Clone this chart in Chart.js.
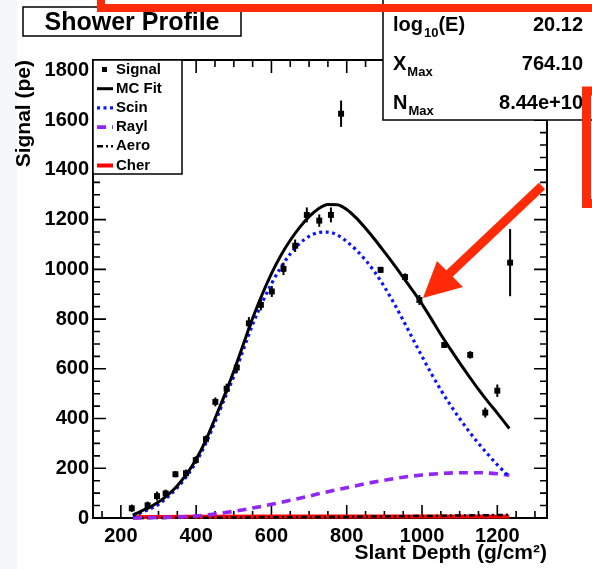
<!DOCTYPE html>
<html>
<head>
<meta charset="utf-8">
<script src="https://cdn.jsdelivr.net/npm/chart.js@4.4.1/dist/chart.umd.min.js"></script>
<style>
  html, body { margin: 0; padding: 0; background: #fff; }
  canvas { display: block; }
</style>
</head>
<body>
<canvas id="perfil" width="592" height="569"></canvas>
<script>
// puntos de senal (g/cm2 , pe) con su error
const sigX   = [229, 271, 296, 319, 345, 373, 399, 426, 451, 481, 508, 540, 572, 601, 632, 663, 694, 727, 758, 785, 890, 955, 993, 1059, 1128, 1168, 1200, 1234];
const sigY   = [39, 51, 88, 99, 176, 180, 233, 317, 467, 520, 605, 783, 857, 911, 1002, 1095, 1219, 1196, 1219, 1626, 998, 969, 877, 696, 656, 424, 512, 1027];
const sigErr = [15, 15, 18, 15, 12, 15, 15, 15, 18, 20, 22, 25, 22, 22, 25, 25, 30, 25, 30, 53, 12, 15, 20, 12, 15, 20, 25, 135];

// curvas del ajuste
const curvaX = [232, 250, 275, 300, 325, 350, 375, 400, 425, 450, 475, 500, 525, 550, 575, 600, 625, 650, 675, 700, 725, 750, 775, 800, 825, 850, 875, 900, 925, 950, 975, 1000, 1025, 1050, 1075, 1100, 1125, 1150, 1175, 1200, 1232];
const fitY  = [12, 25, 42, 64, 93, 130, 177, 236, 310, 400, 492, 590, 697, 803, 898, 983, 1056, 1117, 1169, 1212, 1244, 1261, 1260, 1241, 1207, 1165, 1119, 1070, 1020, 968, 915, 860, 800, 738, 680, 624, 570, 517, 468, 422, 360];
const scinY = [8, 20, 35, 55, 85, 122, 168, 225, 298, 385, 478, 570, 675, 778, 865, 942, 1008, 1062, 1104, 1133, 1148, 1150, 1138, 1112, 1078, 1037, 988, 930, 865, 795, 722, 650, 580, 515, 455, 400, 348, 300, 256, 214, 166];

const raylX = [232, 300, 350, 400, 450, 500, 550, 600, 650, 700, 750, 800, 850, 900, 950, 1000, 1050, 1100, 1150, 1200, 1232];
const raylY = [0, 2, 4, 8, 16, 27, 40, 55, 71, 88, 106, 122, 138, 152, 164, 173, 179, 182, 182, 178, 172];
const aeroX = [232, 400, 600, 800, 1000, 1100, 1200, 1232];
const aeroY = [0, 1, 3, 5, 8, 10, 12, 13];
const cherX = [232, 400, 600, 800, 1000, 1200, 1232];
const cherY = [3, 5, 6, 6, 6, 6, 6];

const ticksX = [200, 400, 600, 800, 1000, 1200];
const ticksY = [0, 200, 400, 600, 800, 1000, 1200, 1400, 1600, 1800];

const nombres = ["Signal", "MC Fit", "Scin", "Rayl", "Aero", "Cher"];
const statNombres = [["log", "10", "(E)"], ["X", "Max", ""], ["N", "Max", ""]];
const statValores = ["20.12", "764.10", "8.44e+10"];

const FUENTE = "'Liberation Sans', Arial, Helvetica, sans-serif";
const ROJO = "#ff2a08";

function pares(xs, ys) {
  return xs.map((x, i) => ({ x: x, y: ys[i] }));
}

function curva(label, xs, ys, color, ancho, dash) {
  return {
    label: label,
    data: pares(xs, ys),
    showLine: true,
    borderColor: color,
    borderWidth: ancho,
    borderDash: dash,
    pointRadius: 0,
    cubicInterpolationMode: "monotone",
    clip: 6,
    fill: false
  };
}

const datasets = [
  {
    label: nombres[0],
    data: pares(sigX, sigY),
    showLine: false,
    pointStyle: "rect",
    pointRadius: 4.2,
    backgroundColor: "#000",
    borderColor: "#000",
    borderWidth: 0
  },
  curva(nombres[1], curvaX, fitY, "#000", 3, []),
  curva(nombres[2], curvaX, scinY, "#0a14ff", 3.2, [3, 3.5]),
  curva(nombres[3], raylX, raylY, "#9226f2", 3.6, [9, 6]),
  curva(nombres[4], aeroX, aeroY, "#000", 2.5, [6, 3, 2, 3]),
  curva(nombres[5], cherX, cherY, "#ff0000", 4, [])
];

// barras de error, marco con ticks estilo ROOT, cajas y anotaciones
const decoracion = {
  id: "decoracion",
  beforeDraw(chart) {
    const ctx = chart.ctx;
    ctx.save();
    ctx.fillStyle = "#fff";
    ctx.fillRect(0, 0, chart.width, chart.height);
    ctx.fillStyle = "#f4f6fa";
    ctx.fillRect(0, 0, 17, chart.height);
    ctx.restore();
  },
  beforeDatasetsDraw(chart) {
    const ctx = chart.ctx;
    const a = chart.chartArea;
    const sx = chart.scales.x, sy = chart.scales.y;
    ctx.save();
    ctx.strokeStyle = "#000";
    ctx.lineWidth = 2;
    ctx.strokeRect(a.left, a.top, a.right - a.left, a.bottom - a.top);

    // ticks en los cuatro lados
    ctx.lineWidth = 1.6;
    ctx.beginPath();
    for (let v = 150; v <= 1300; v += 50) {
      const px = sx.getPixelForValue(v);
      if (px <= a.left + 1 || px >= a.right - 1) continue;
      const l = v % 200 === 0 ? 13 : 7;
      ctx.moveTo(px, a.bottom); ctx.lineTo(px, a.bottom - l);
      ctx.moveTo(px, a.top); ctx.lineTo(px, a.top + l);
    }
    for (let v = 50; v <= 1800; v += 50) {
      const py = sy.getPixelForValue(v);
      if (py <= a.top + 1) continue;
      const l = v % 200 === 0 ? 13 : 7;
      ctx.moveTo(a.left, py); ctx.lineTo(a.left + l, py);
      ctx.moveTo(a.right, py); ctx.lineTo(a.right - l, py);
    }
    ctx.stroke();
    ctx.restore();
  },
  afterDatasetsDraw(chart) {
    const ctx = chart.ctx;
    const sx = chart.scales.x, sy = chart.scales.y;
    ctx.save();
    ctx.strokeStyle = "#000";
    ctx.lineWidth = 2;
    sigX.forEach((x, i) => {
      const px = sx.getPixelForValue(x);
      ctx.beginPath();
      ctx.moveTo(px, sy.getPixelForValue(sigY[i] - sigErr[i]));
      ctx.lineTo(px, sy.getPixelForValue(sigY[i] + sigErr[i]));
      ctx.stroke();
    });
    ctx.restore();
  },
  afterDraw(chart) {
    const ctx = chart.ctx;
    const a = chart.chartArea;
    ctx.save();

    // leyenda
    const lx = a.left, ly = a.top;
    ctx.fillStyle = "#fff";
    ctx.fillRect(lx, ly, 89, 114);
    ctx.strokeStyle = "#000";
    ctx.lineWidth = 1.5;
    ctx.strokeRect(lx, ly, 89, 114);
    ctx.font = "bold 15px " + FUENTE;
    ctx.textBaseline = "middle";
    nombres.forEach((n, i) => {
      const y = ly + 9.5 + i * 19.2;
      const ds = datasets[i];
      ctx.fillStyle = "#000";
      ctx.fillText(n, lx + 23, y);
      if (i === 0) {
        ctx.fillRect(lx + 9, y - 2.5, 5, 5);
      } else {
        ctx.save();
        ctx.strokeStyle = ds.borderColor;
        ctx.lineWidth = ds.borderWidth;
        ctx.setLineDash(ds.borderDash);
        ctx.beginPath();
        ctx.moveTo(lx + 4, y);
        ctx.lineTo(lx + 20, y);
        ctx.stroke();
        ctx.restore();
      }
    });

    // caja de titulo
    ctx.fillStyle = "#fff";
    ctx.fillRect(23, 7, 218, 29);
    ctx.strokeRect(23, 7, 218, 29);
    ctx.fillStyle = "#000";
    ctx.font = "bold 25px " + FUENTE;
    ctx.textAlign = "center";
    ctx.textBaseline = "alphabetic";
    ctx.fillText("Shower Profile", 132, 30);

    // caja de estadisticas
    ctx.fillStyle = "#fff";
    ctx.fillRect(383, -5, 220, 125);
    ctx.strokeRect(383, -5, 220, 125);
    ctx.fillStyle = "#000";
    statNombres.forEach((p, i) => {
      const base = 31 + i * 39;
      let x = 393;
      ctx.textAlign = "left";
      ctx.font = "bold 20px " + FUENTE;
      ctx.fillText(p[0], x, base);
      x += ctx.measureText(p[0]).width + 1;
      ctx.font = "bold 13px " + FUENTE;
      ctx.fillText(p[1], x, base + 6);
      x += ctx.measureText(p[1]).width;
      ctx.font = "bold 20px " + FUENTE;
      ctx.fillText(p[2], x, base);
      ctx.textAlign = "right";
      ctx.fillText(statValores[i], 583, base);
    });

    // anotaciones rojas
    ctx.strokeStyle = ROJO;
    ctx.fillStyle = ROJO;
    ctx.lineWidth = 8;
    ctx.strokeRect(101, -60, 600, 68);
    ctx.lineWidth = 9;
    ctx.strokeRect(586.5, 91, 100, 112.5);
    ctx.beginPath();
    ctx.moveTo(542, 186);
    ctx.lineTo(449, 274);
    ctx.stroke();
    ctx.beginPath();
    ctx.moveTo(423, 298);
    ctx.lineTo(437, 261);
    ctx.lineTo(463, 287);
    ctx.closePath();
    ctx.fill();

    ctx.restore();
  }
};

new Chart(document.getElementById("perfil"), {
  type: "scatter",
  data: { datasets: datasets },
  options: {
    responsive: false,
    animation: false,
    devicePixelRatio: 1,
    layout: { padding: { left: 0, top: 60, right: 45, bottom: 0 } },
    plugins: { legend: { display: false }, tooltip: { enabled: false } },
    scales: {
      x: {
        type: "linear",
        min: 126,
        max: 1332,
        grid: { display: false, drawTicks: false },
        border: { display: false },
        afterBuildTicks: s => { s.ticks = ticksX.map(v => ({ value: v })); },
        afterFit: s => { s.height = 51; },
        ticks: {
          color: "#000",
          padding: 6,
          maxRotation: 0,
          callback: v => String(v),
          font: { family: FUENTE, size: 20, weight: "bold" }
        },
        title: {
          display: true,
          text: "Slant Depth (g/cm²)",
          align: "end",
          color: "#000",
          padding: { top: 0, bottom: 3 },
          font: { family: FUENTE, size: 21, weight: "bold" }
        }
      },
      y: {
        type: "linear",
        min: 0,
        max: 1842,
        grid: { display: false, drawTicks: false },
        border: { display: false },
        afterBuildTicks: s => { s.ticks = ticksY.map(v => ({ value: v })); },
        afterFit: s => { s.width = 93; },
        ticks: {
          color: "#000",
          padding: 4,
          callback: v => String(v),
          font: { family: FUENTE, size: 20, weight: "bold" }
        },
        title: {
          display: true,
          text: "Signal (pe)",
          align: "end",
          color: "#000",
          padding: { top: 12, bottom: 0 },
          font: { family: FUENTE, size: 21, weight: "bold" }
        }
      }
    }
  },
  plugins: [decoracion]
});
</script>
</body>
</html>
